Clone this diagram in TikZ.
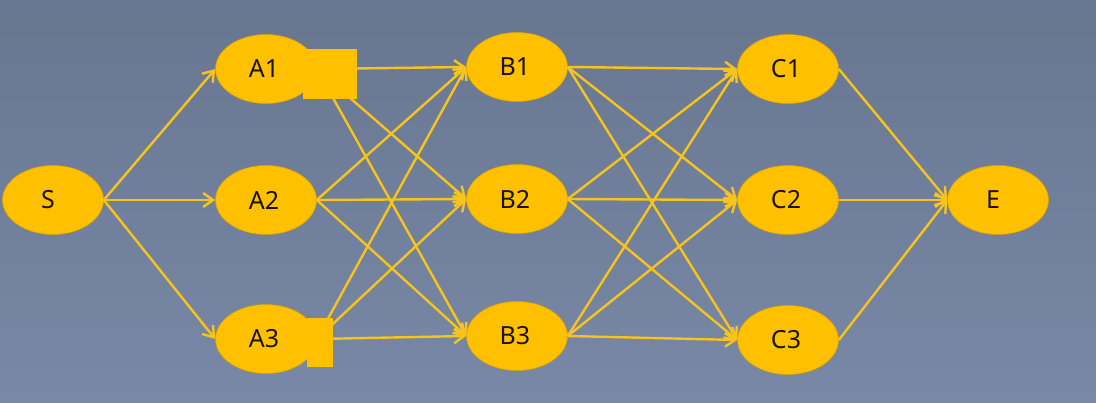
\documentclass[tikz,border=0pt]{standalone}
\usepackage{fontspec}
\setmainfont{Noto Sans}
\usetikzlibrary{arrows.meta,shapes.geometric}
\definecolor{bgtop}{RGB}{104,118,144}
\definecolor{bgbot}{RGB}{120,136,166}
\definecolor{nodey}{RGB}{255,192,0}
\definecolor{edgey}{RGB}{246,196,28}
\definecolor{labelc}{RGB}{25,20,15}
\begin{document}
\begin{tikzpicture}[x=1pt,y=-1pt,
  state/.style={ellipse, fill=nodey, draw=nodey!85!black, line width=0.6pt,
    minimum width=101pt, minimum height=69pt, inner sep=0pt,
    text=labelc, font=\fontsize{25}{27}\selectfont},
  flow/.style={draw=edgey, line width=2.4pt,
    -{Straight Barb[length=10pt,width=14pt,line width=2.4pt]}},
  patch/.style={fill=nodey}]
\shade[top color=bgtop, bottom color=bgbot] (0,0) rectangle (1096,402);
\useasboundingbox (0,0) rectangle (1096,402);

\node[state] (S) at (53,200) {\hspace*{-10pt}S};
\node[state] (A1) at (266,69) {\hspace*{-4pt}A1};
\node[state] (A2) at (266,200) {\hspace*{-4pt}A2};
\node[state] (A3) at (266,339) {\hspace*{-4pt}A3};
\node[state] (B1) at (517,67) {\hspace*{-4pt}B1};
\node[state] (B2) at (517,199) {\hspace*{-4pt}B2};
\node[state] (B3) at (517,336) {\hspace*{-4pt}B3};
\node[state] (C1) at (788,69) {\hspace*{-4pt}C1};
\node[state] (C2) at (788,200) {\hspace*{-4pt}C2};
\node[state] (C3) at (788,340) {\hspace*{-4pt}C3};
\node[state] (E) at (998,200) {\hspace*{-10pt}E};

\foreach \t in {A1,A2,A3} \draw[flow] (S.east) -- (\t.west);
\foreach \s in {A1,A2,A3} {
  \foreach \t in {B1,B2,B3} \draw[flow] (\s.east) -- (\t.west);
}
\foreach \s in {B1,B2,B3} {
  \foreach \t in {C1,C2,C3} \draw[flow] (\s.east) -- (\t.west);
}
\foreach \s in {C1,C2,C3} \draw[flow] (\s.east) -- (E.west);

\fill[patch] (303,49) rectangle (357,99);
\fill[patch] (307,318) rectangle (333,367);
\end{tikzpicture}
\end{document}
